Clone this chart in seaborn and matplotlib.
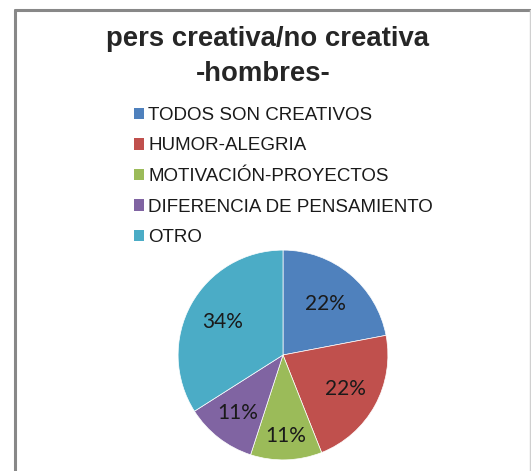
import matplotlib
matplotlib.use("Agg")
import matplotlib.pyplot as plt
from matplotlib.lines import Line2D
from matplotlib.patches import Patch
import numpy as np
import seaborn as sns

# Data
categories = ["TODOS SON CREATIVOS", "HUMOR-ALEGRIA", "MOTIVACIÓN-PROYECTOS",
              "DIFERENCIA DE PENSAMIENTO", "OTRO"]
percentages = [22, 22, 11, 11, 34]
colors = ["#4F81BD", "#C0504D", "#9BBB59", "#8064A2", "#4BACC6"]
title_lines = ["pers creativa/no creativa", "-hombres-"]
# radial placement of each percentage label (fraction of radius)
label_radius = [0.63, 0.68, 0.77, 0.70, 0.66]

sns.set_theme(style="white")
plt.rcParams["font.family"] = ["Liberation Sans", "DejaVu Sans"]

W, H = 531, 471
fig = plt.figure(figsize=(W / 100, H / 100), dpi=100)
fig.patch.set_facecolor("white")

def fx(px):
    return px / W

def fy(py):
    return 1 - py / H

# Chart-area frame
fig.add_artist(Line2D([fx(14.5), fx(14.5)], [fy(10), fy(H + 5)], color="#888888", lw=2.2))
fig.add_artist(Line2D([fx(14.5), fx(530)], [fy(10), fy(10)], color="#888888", lw=2.2))
fig.add_artist(Line2D([fx(530.3), fx(530.3)], [fy(10), fy(H + 5)], color="#d0d0d0", lw=1.0))

# Title
title_font = dict(fontsize=19.8, fontweight="bold", family=["Liberation Sans", "DejaVu Sans"])
fig.text(fx(267), fy(39), title_lines[0], ha="center", va="center", **title_font)
fig.text(fx(263), fy(74), title_lines[1], ha="center", va="center", **title_font)

# Pie
cx, cy, r = 283, 355, 107
ax = fig.add_axes([fx(cx - r), fy(cy + r), (2 * r) / W, (2 * r) / H])
wedges, texts, autotexts = ax.pie(
    percentages, colors=colors, startangle=90, counterclock=False,
    autopct=lambda p: f"{p:.0f}%", pctdistance=0.66,
    wedgeprops=dict(linewidth=0.5, edgecolor="white"),
    textprops=dict(fontsize=15, color="#1a1a1a", family=["Lato", "DejaVu Sans"]),
)
for w, t, d in zip(wedges, autotexts, label_radius):
    ang = np.deg2rad((w.theta1 + w.theta2) / 2)
    t.set_position((d * np.cos(ang), d * np.sin(ang)))
ax.set_xlim(-1.02, 1.02)
ax.set_ylim(-1.02, 1.02)
ax.set_aspect("equal")
ax.axis("off")

# Legend
handles = [Patch(facecolor=c, edgecolor="none") for c in colors]
leg = fig.legend(
    handles, categories, loc="upper left", bbox_to_anchor=(fx(134), fy(107)),
    frameon=False, handlelength=0.55, handleheight=0.55,
    handletextpad=0.2, labelspacing=0.72, borderpad=0, borderaxespad=0,
    prop=dict(family=["Liberation Sans", "DejaVu Sans"], size=13.5),
)
for t in leg.get_texts():
    t.set_color("#1a1a1a")

fig.savefig("out.png", dpi=100, facecolor="white")
